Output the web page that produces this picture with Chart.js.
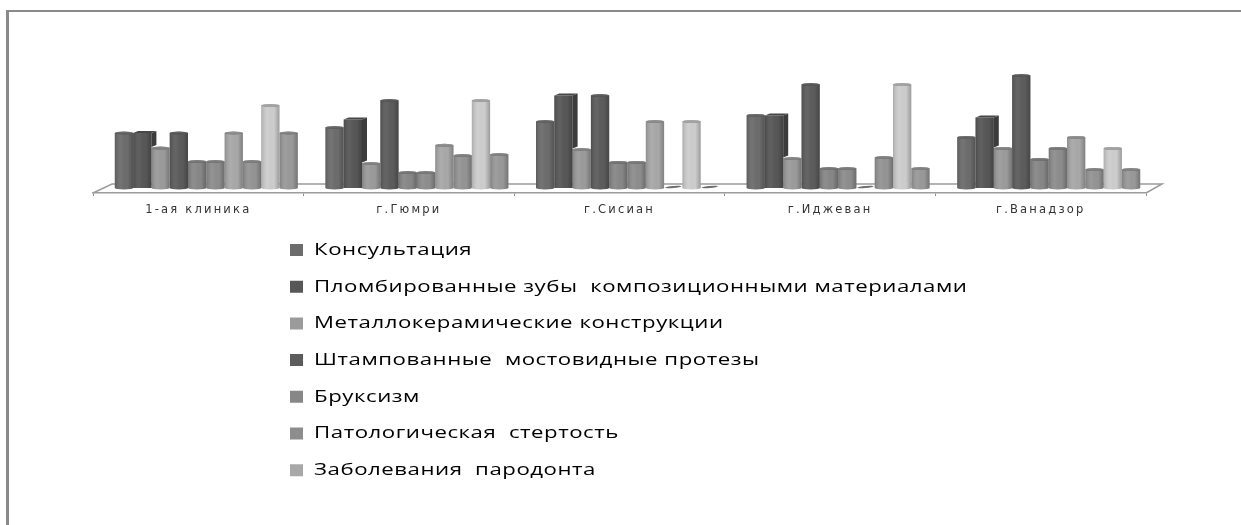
<!DOCTYPE html>
<html>
<head>
<meta charset="utf-8">
<script src="https://cdn.jsdelivr.net/npm/chart.js@4/dist/chart.umd.min.js"></script>
<style>
  html, body { margin: 0; padding: 0; background: #fff; overflow: hidden; }
  #wrap { position: absolute; left: 0; top: 0; width: 1241px; height: 525px; }
  #frame { position: absolute; left: 6px; top: 10px; right: 0; bottom: 0;
           border-left: 3px solid #8a8a8a; border-top: 2px solid #8a8a8a; pointer-events: none; }
</style>
</head>
<body>
<div id="wrap">
  <canvas id="chart" width="1241" height="525"></canvas>
  <div id="frame"></div>
</div>
<script>
const categories = ['1-ая клиника', 'г.Гюмри', 'г.Сисиан', 'г.Иджеван', 'г.Ванадзор'];

const seriesNames = [
  'Консультация',
  'Пломбированные зубы  композиционными материалами',
  'Металлокерамические конструкции',
  'Штампованные  мостовидные протезы',
  'Бруксизм',
  'Патологическая  стертость',
  'Заболевания  пародонта',
  'Ряд 8',
  'Ряд 9',
  'Ряд 10'
];

const consultation   = [20, 22, 24.2, 26.4, 18.4];
const composite      = [20, 24.9, 33.6, 26.4, 25.6];
const metalCeramic   = [14.5, 8.9, 14, 10.7, 14.4];
const stampedBridges = [20, 31.8, 33.6, 37.6, 40.9];
const bruxism        = [9.6, 5.6, 9.3, 7.1, 10.4];
const attrition      = [9.6, 5.6, 9.3, 7.1, 14.4];
const periodontal    = [20, 15.5, 24.2, 0, 18.4];
const series8        = [9.6, 11.8, 0, 11.1, 6.7];
const series9        = [30, 31.8, 24.2, 37.6, 14.4];
const series10       = [20, 12.2, 0, 7.1, 6.7];

const seriesValues = [consultation, composite, metalCeramic, stampedBridges, bruxism,
                      attrition, periodontal, series8, series9, series10];
const seriesColors = ['#6c6c6c', '#575757', '#9b9b9b', '#5c5c5c', '#878787',
                      '#8d8d8d', '#a8a8a8', '#949494', '#cdcdcd', '#999999'];
const legendCount = 7;
const boxSeries = 1;          // this series is a square column, the others are cylinders
const depthShift = 8;         // columns stand further back than the axis line
const sideDepth = 5;
const legendX = 290;
const legendStretch = 1.307;
const legendPadding = 19.7;

function shade(bar, ctx) {
  const left = bar.x - bar.width / 2, right = bar.x + bar.width / 2;
  const g = ctx.createLinearGradient(left, 0, right, 0);
  g.addColorStop(0, 'rgba(0,0,0,0.16)');
  g.addColorStop(0.35, 'rgba(255,255,255,0.05)');
  g.addColorStop(0.7, 'rgba(0,0,0,0)');
  g.addColorStop(1, 'rgba(0,0,0,0.24)');
  return g;
}

const columnsPlugin = {
  id: 'columns3d',
  beforeDatasetsDraw(chart) {
    const { ctx, chartArea: a } = chart;
    // floor of the plot
    ctx.save();
    ctx.strokeStyle = '#9c9c9c';
    ctx.lineWidth = 1.5;
    ctx.beginPath();
    ctx.moveTo(a.left, a.bottom);
    ctx.lineTo(a.left + 19, a.bottom - 9);
    ctx.lineTo(a.right + 16, a.bottom - 9);
    ctx.lineTo(a.right, a.bottom);
    ctx.stroke();
    ctx.restore();
    ctx.save();
    ctx.translate(depthShift, 0);
  },
  afterDatasetDraw(chart, args) {
    const { ctx } = chart;
    const color = seriesColors[args.index];
    const isBox = args.index === boxSeries;
    args.meta.data.forEach((bar, i) => {
      const left = bar.x - bar.width / 2, right = bar.x + bar.width / 2;
      const top = bar.y, bottom = bar.base;
      const rx = bar.width / 2, ry = 1.5;
      ctx.save();
      if (isBox) {
        const next = chart.getDatasetMeta(args.index + 1).data[i];
        const sideBottom = Math.min(bottom, Math.max(next.y - 1, top));
        ctx.fillStyle = shade(bar, ctx);
        ctx.fillRect(left, top, bar.width, bottom - top);
        ctx.fillStyle = '#3c3c3c';
        ctx.beginPath();
        ctx.moveTo(right, top);
        ctx.lineTo(right + sideDepth, top - 2);
        ctx.lineTo(right + sideDepth, sideBottom - 2);
        ctx.lineTo(right, sideBottom);
        ctx.closePath();
        ctx.fill();
        ctx.fillStyle = '#474747';
        ctx.beginPath();
        ctx.moveTo(left, top);
        ctx.lineTo(left + sideDepth, top - 2);
        ctx.lineTo(right + sideDepth, top - 2);
        ctx.lineTo(right, top);
        ctx.closePath();
        ctx.fill();
      } else if (bottom - top > 0.5) {
        ctx.fillStyle = shade(bar, ctx);
        ctx.fillRect(left, top, bar.width, bottom - top);
        ctx.fillStyle = color;
        ctx.beginPath();
        ctx.ellipse(bar.x, bottom, rx, ry, 0, 0, Math.PI);
        ctx.fill();
        ctx.fillStyle = shade(bar, ctx);
        ctx.fill();
        ctx.fillStyle = 'rgba(70,70,70,0.8)';
        ctx.beginPath();
        ctx.ellipse(bar.x, top, rx, ry, 0, 0, Math.PI * 2);
        ctx.fill();
        ctx.fillStyle = color;
        ctx.globalAlpha = 0.6;
        ctx.fill();
      } else {
        ctx.fillStyle = '#6e6e6e';
        ctx.beginPath();
        ctx.ellipse(bar.x, bottom - 1, rx - 1, 1, -0.08, 0, Math.PI * 2);
        ctx.fill();
      }
      ctx.restore();
    });
  },
  afterDatasetsDraw(chart) {
    chart.ctx.restore();
  },
  afterLayout(chart) {
    // the key sits in its own block below the plot, set wide
    const legend = chart.legend;
    legend.left = legendX - legendPadding;
    legend.right = 1100;
    legend.top = 221.8;
    legend.bottom = 520;
    if (!legend.stretched) {
      legend.stretched = true;
      const drawLegend = legend.draw;
      legend.draw = function () {
        const ctx = chart.ctx;
        ctx.save();
        ctx.translate(legendX, 0);
        ctx.scale(legendStretch, 1);
        ctx.translate(-legendX, 0);
        ctx.letterSpacing = '0.4px';
        drawLegend.call(legend);
        ctx.restore();
      };
      // axis names are spaced out
      const xScale = chart.scales.x;
      const drawLabels = xScale.drawLabels;
      xScale.drawLabels = function (area) {
        const ctx = chart.ctx;
        ctx.save();
        ctx.letterSpacing = '2.2px';
        drawLabels.call(xScale, area);
        ctx.restore();
      };
    }
  }
};

new Chart(document.getElementById('chart'), {
  type: 'bar',
  data: {
    labels: categories,
    datasets: seriesValues.map((values, i) => ({
      label: seriesNames[i],
      data: values,
      backgroundColor: seriesColors[i],
      borderWidth: 0,
      categoryPercentage: 0.869,
      barPercentage: 1
    }))
  },
  options: {
    responsive: false,
    animation: false,
    layout: { padding: { left: 93, right: 95, top: 46, bottom: 0 } },
    scales: {
      x: {
        offset: true,
        afterFit(scale) { scale.height = 332; },
        border: { color: '#9c9c9c', width: 1.5 },
        grid: { display: true, drawOnChartArea: false, drawTicks: true, tickLength: 3, color: '#8c8c8c', offset: true },
        ticks: { color: '#333', font: { family: 'DejaVu Sans', size: 11.5 }, padding: 7, maxRotation: 0 }
      },
      y: { display: false, min: -1.82, max: 51.64 }
    },
    plugins: {
      tooltip: { enabled: false },
      legend: {
        position: 'chartArea',
        align: 'start',
        labels: {
          color: '#3f3f3f',
          font: { family: 'Open Sans', size: 17 },
          boxWidth: 9.95,
          boxHeight: 12,
          padding: legendPadding,
          generateLabels() {
            return seriesNames.slice(0, legendCount).map((text, i) => ({
              text, datasetIndex: i, fillStyle: seriesColors[i], strokeStyle: seriesColors[i], lineWidth: 0, hidden: false
            }));
          }
        }
      }
    }
  },
  plugins: [columnsPlugin]
});
</script>
</body>
</html>
